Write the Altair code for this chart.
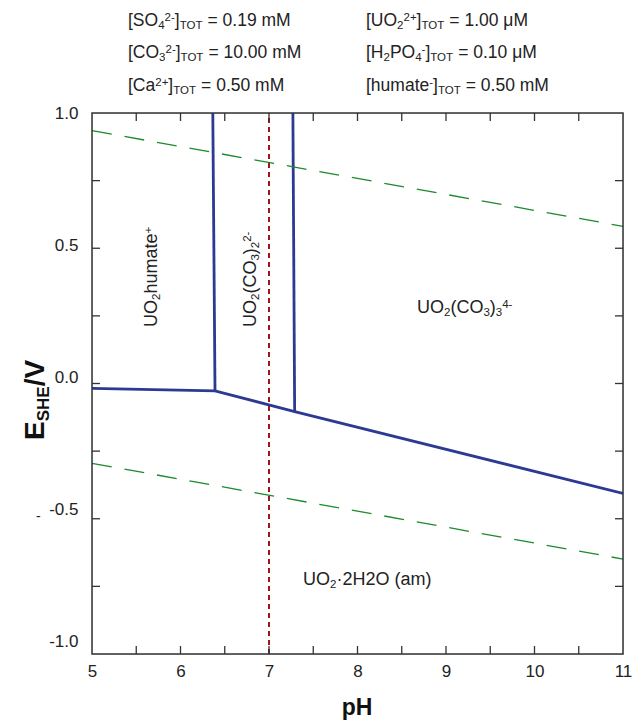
import altair as alt
import pandas as pd

# ---------------- data ----------------
ph_domain = [5, 11]
e_domain = [-1.0, 1.0]
x_labels = [5, 6, 7, 8, 9, 10, 11]
x_minor = [5.5, 6, 6.5, 7, 7.5, 8, 8.5, 9, 9.5, 10, 10.5]
y_labels = [-1.0, -0.5, 0.0, 0.5, 1.0]
y_label_domain = [-1.049, 1.0]   # the printed labels sit on a slightly squeezed scale
y_minor = [-0.75, -0.5, -0.25, 0.0, 0.25, 0.5, 0.75]

# uranium predominance boundaries
bnd_seg = ["a", "a", "a", "a", "b", "b", "c", "c"]
bnd_ph = [5.0, 6.39, 7.29, 11.0, 6.365, 6.39, 7.27, 7.29]
bnd_e = [-0.018, -0.027, -0.104, -0.406, 1.0, -0.027, 1.0, -0.104]

# water stability lines
o2_ph = [5, 11]
o2_e = [0.935, 0.581]
h2_ph = [5, 11]
h2_e = [-0.295, -0.649]
neutral_ph = [7, 7]
neutral_e = [-1.0, 1.0]

# ---------------- geometry ----------------
W, H = 531, 541
LEFT, TOP = 92, 113


def to_ph(px):
    return ph_domain[0] + (px - LEFT) / W * (ph_domain[1] - ph_domain[0])


def to_e(py):
    return e_domain[1] - (py - TOP) / H * (e_domain[1] - e_domain[0])


REG = {' ': 278, '[': 278, ']': 278, '(': 333, ')': 333, '=': 584, '.': 278,
       '-': 333, '+': 584, '·': 278, '/': 278, 'S': 667, 'O': 778, 'C': 722,
       'U': 722, 'H': 722, 'P': 667, 'T': 611, 'E': 667, 'V': 667, 'a': 556,
       'm': 833, 'M': 833, 'h': 556, 'u': 556, 'e': 556, 't': 278, 'μ': 576,
       'p': 556}
BOLD = dict(REG, p=611)


def width(txt, size, bold=False):
    t = BOLD if bold else REG
    return sum(t.get(c, 556) for c in txt) * size / 1000.0


def run(segs, x0, y0, fs, sfs, rot=False, bold=False):
    rows = []
    adv = 0.0
    for txt, kind in segs:
        size = fs if kind == 'n' else sfs
        stripped = txt.lstrip(' ')
        adv += width(txt[:len(txt) - len(stripped)], size, bold)
        shift = {'n': 0.0, 'b': 0.17 * fs, 'p': -0.28 * fs}[kind]
        if rot:
            px, py = x0 + shift, y0 - adv
        else:
            px, py = x0 + adv, y0 + shift
        rows.append({'ph': to_ph(px), 'e': to_e(py), 'text': stripped, 'fs': size})
        adv += width(stripped, size, bold)
    return rows


FS, SFS = 17.5, 11.5
head = []
head += run([("[SO", 'n'), ("4", 'b'), ("2-", 'p'), ("]", 'n'), ("TOT", 'b'), (" = 0.19 mM", 'n')], 128, 26, FS, SFS)
head += run([("[CO", 'n'), ("3", 'b'), ("2-", 'p'), ("]", 'n'), ("TOT", 'b'), (" = 10.00 mM", 'n')], 128, 58, FS, SFS)
head += run([("[Ca", 'n'), ("2+", 'p'), ("]", 'n'), ("TOT", 'b'), (" = 0.50 mM", 'n')], 128, 91, FS, SFS)
head += run([("[UO", 'n'), ("2", 'b'), ("2+", 'p'), ("]", 'n'), ("TOT", 'b'), (" = 1.00 μM", 'n')], 366, 26, FS, SFS)
head += run([("[H", 'n'), ("2", 'b'), ("PO", 'n'), ("4", 'b'), ("-", 'p'), ("]", 'n'), ("TOT", 'b'), (" = 0.10 μM", 'n')], 366, 58, FS, SFS)
head += run([("[humate", 'n'), ("-", 'p'), ("]", 'n'), ("TOT", 'b'), (" = 0.50 mM", 'n')], 366, 91, FS, SFS)
head += run([("UO", 'n'), ("2", 'b'), ("(CO", 'n'), ("3", 'b'), (")", 'n'), ("3", 'b'), ("4-", 'p')], 417, 313, 18, SFS)
head += run([("UO", 'n'), ("2", 'b'), ("·2H2O (am)", 'n')], 303, 585, 18, SFS)
head += [{'ph': to_ph(36), 'e': to_e(521), 'text': '-', 'fs': 14}]

rot = []
rot += run([("UO", 'n'), ("2", 'b'), ("humate", 'n'), ("+", 'p')], 157, 327, 18, SFS, rot=True)
rot += run([("UO", 'n'), ("2", 'b'), ("(CO", 'n'), ("3", 'b'), (")", 'n'), ("2", 'b'), ("2-", 'p')], 256, 327, 18, SFS, rot=True)

bold_h = run([("pH", 'n')], 357 - width("pH", 23, True) / 2, 715, 23, 13, bold=True)
bold_r = run([("E", 'n'), ("SHE", 'b'), ("/V", 'n')], 44, 440, 28, 17, rot=True, bold=True)

xs = alt.Scale(domain=ph_domain, nice=False, zero=False)
ys = alt.Scale(domain=e_domain, nice=False, zero=False)

X = alt.X('ph:Q', scale=xs,
          axis=alt.Axis(values=x_labels, format='d', ticks=False, domain=False, grid=False,
                        labelFontSize=17, labelFont='Liberation Sans', labelColor='#222',
                        labelPadding=9, title=None, labelFlush=False))
Y = alt.Y('e:Q', scale=ys, axis=None)

bnd_df = pd.DataFrame({'seg': bnd_seg, 'ph': bnd_ph, 'e': bnd_e, 'o': list(range(len(bnd_ph)))})
boundary = alt.Chart(bnd_df).mark_line(color='#2d3a93', strokeWidth=2.8, clip=True).encode(
    x=X, y=Y, detail='seg:N', order='o:Q')

o2 = alt.Chart(pd.DataFrame({'ph': o2_ph, 'e': o2_e})).mark_line(
    color='#1b8a2c', strokeWidth=1.3, strokeDash=[20, 13]).encode(x='ph:Q', y='e:Q')
h2 = alt.Chart(pd.DataFrame({'ph': h2_ph, 'e': h2_e})).mark_line(
    color='#1b8a2c', strokeWidth=1.3, strokeDash=[20, 13]).encode(x='ph:Q', y='e:Q')
neutral = alt.Chart(pd.DataFrame({'ph': neutral_ph, 'e': neutral_e})).mark_line(
    color='#a3141a', strokeWidth=2, strokeDash=[5, 4]).encode(x='ph:Q', y='e:Q')

TL = 8
tx = pd.DataFrame({'ph': x_minor})
ty = pd.DataFrame({'e': y_minor})
tick_style = dict(color='#333', strokeWidth=1.3)
t_bottom = alt.Chart(tx).mark_rule(**tick_style).encode(x='ph:Q', y=alt.value(H), y2=alt.value(H - TL))
t_top = alt.Chart(tx).mark_rule(**tick_style).encode(x='ph:Q', y=alt.value(0), y2=alt.value(TL))
t_left = alt.Chart(ty).mark_rule(**tick_style).encode(y='e:Q', x=alt.value(0), x2=alt.value(TL))
t_right = alt.Chart(ty).mark_rule(**tick_style).encode(y='e:Q', x=alt.value(W), x2=alt.value(W - TL))

frame = alt.Chart(pd.DataFrame({'k': [0]})).mark_rect(
    fillOpacity=0, stroke='#333', strokeWidth=1.5).encode(
    x=alt.value(0), x2=alt.value(W), y=alt.value(0), y2=alt.value(H))

txt_h = alt.Chart(pd.DataFrame(head)).mark_text(
    align='left', baseline='alphabetic', font='Liberation Sans', color='#222').encode(
    x='ph:Q', y='e:Q', text='text:N', size=alt.Size('fs:Q', scale=None))
txt_r = alt.Chart(pd.DataFrame(rot)).mark_text(
    align='left', baseline='alphabetic', font='Liberation Sans', color='#222', angle=270).encode(
    x='ph:Q', y='e:Q', text='text:N', size=alt.Size('fs:Q', scale=None))
txt_bh = alt.Chart(pd.DataFrame(bold_h)).mark_text(
    align='left', baseline='alphabetic', font='Liberation Sans', fontWeight='bold', color='#111').encode(
    x='ph:Q', y='e:Q', text='text:N', size=alt.Size('fs:Q', scale=None))
txt_br = alt.Chart(pd.DataFrame(bold_r)).mark_text(
    align='left', baseline='alphabetic', font='Liberation Sans', fontWeight='bold', color='#111', angle=270).encode(
    x='ph:Q', y='e:Q', text='text:N', size=alt.Size('fs:Q', scale=None))

main = alt.layer(
    boundary, o2, h2, neutral, t_bottom, t_top, t_left, t_right, frame,
    txt_h, txt_r, txt_bh, txt_br
)

# y-axis labels as printed in the reference
ylab = alt.Chart(pd.DataFrame({'v': y_labels})).mark_point(opacity=0).encode(
    x=alt.value(0),
    y=alt.Y('v:Q', scale=alt.Scale(domain=y_label_domain, nice=False, zero=False),
            axis=alt.Axis(orient='left', values=y_labels, ticks=False, domain=False, grid=False,
                          labelExpr="replace(format(datum.value, '.1f'), '\u2212', '-')",
                          labelFontSize=17, labelFont='Liberation Sans', labelColor='#222',
                          labelPadding=14, title=None, labelFlush=False)))

chart = alt.layer(main, ylab).resolve_scale(y='independent').properties(
    width=W, height=H,
    autosize=alt.AutoSizeParams(type='none'),
    padding={'left': LEFT, 'top': TOP, 'right': 632 - LEFT - W, 'bottom': 720 - TOP - H},
).configure_view(stroke='#333', strokeWidth=1.5).configure(background='white')

chart.save("out.html", embed_options={"renderer": "svg", "actions": False})
